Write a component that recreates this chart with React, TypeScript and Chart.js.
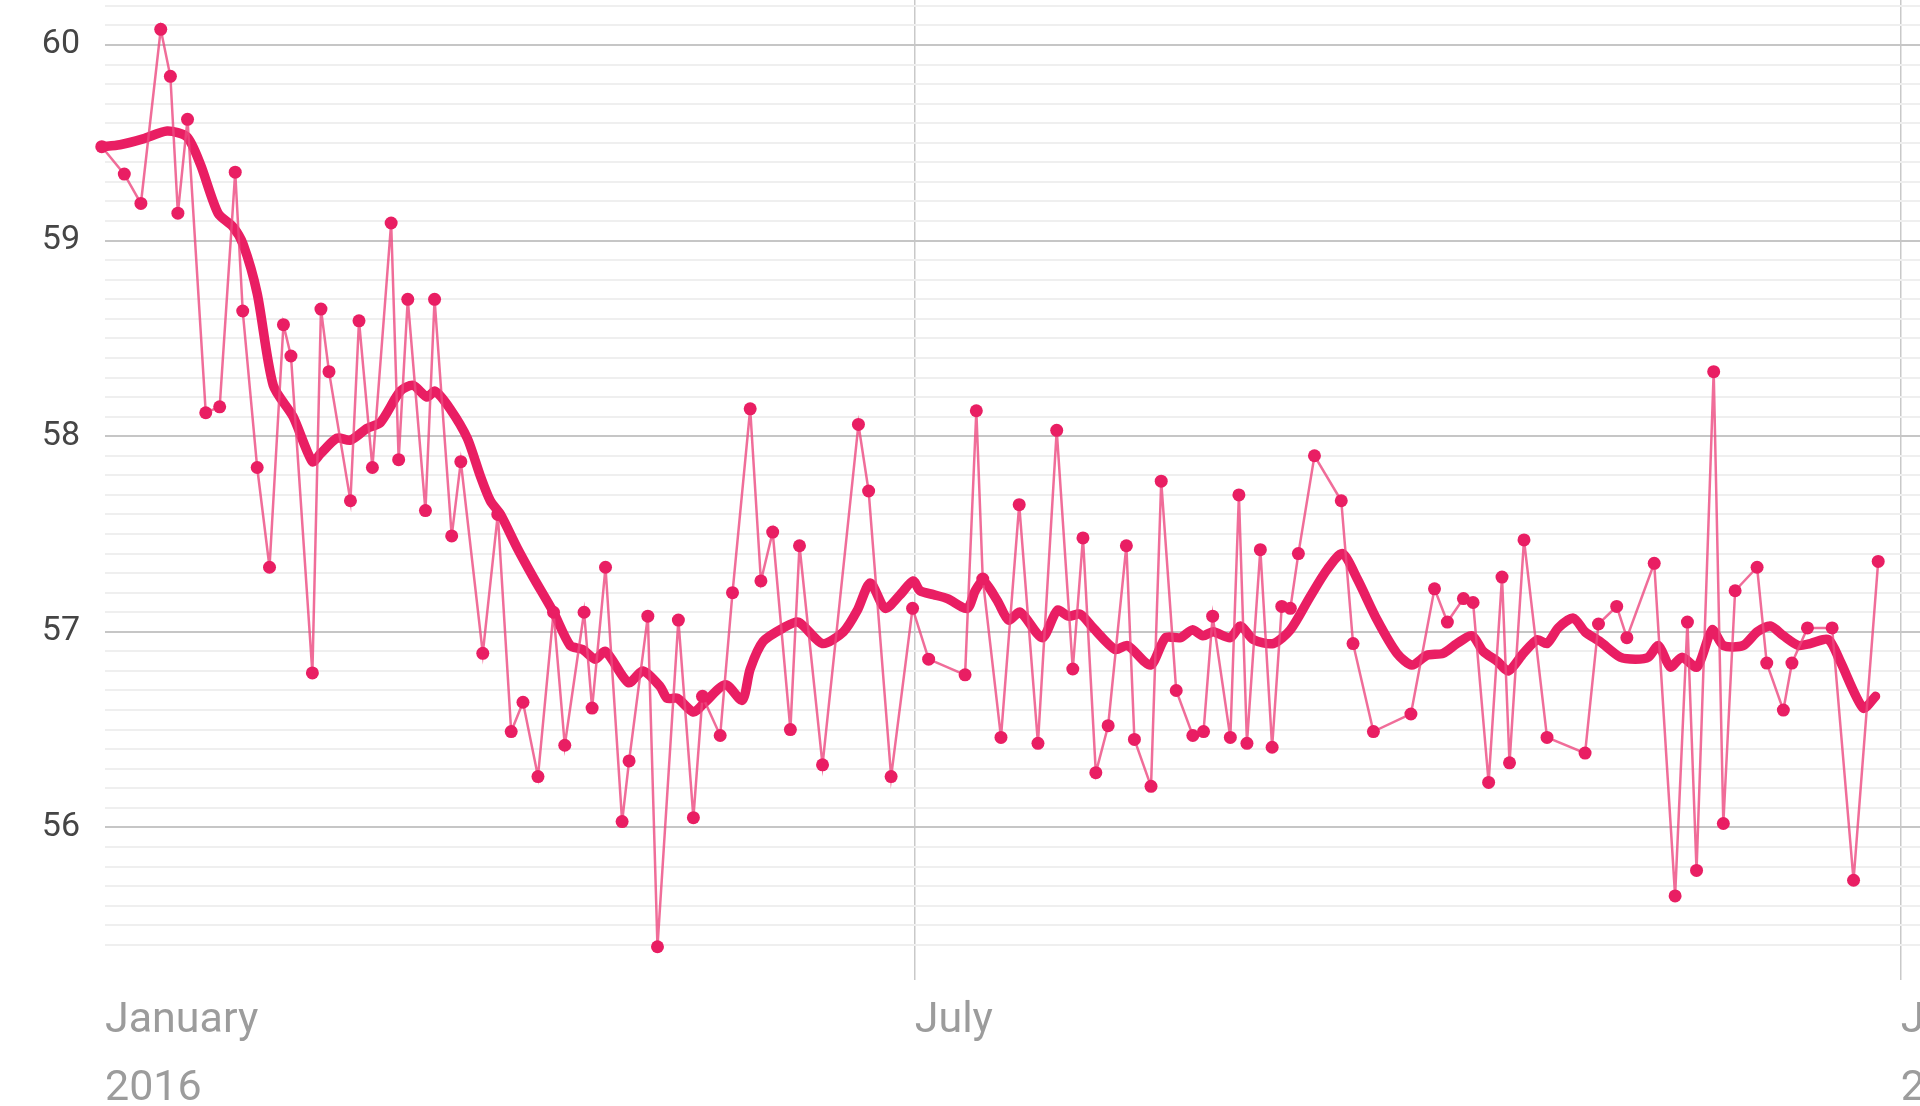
import React, { useEffect, useRef } from "react";
import { Chart, registerables } from "chart.js";

Chart.register(...registerables);

// Day of year 2016 (0 = 1 January 2016)
const thinDays = [
  30.3, 34.5, 37.6, 41.3, 43.1, 44.5, 46.3, 49.7, 52.3, 55.2,
  56.6, 59.3, 61.6, 64.2, 65.6, 69.6, 71.2, 72.7, 76.7, 78.3,
  80.8, 84.3, 85.7, 87.4, 90.7, 92.4, 95.6, 97.3, 101.4, 104.2,
  106.7, 108.9, 111.7, 114.6, 116.7, 120.3, 121.8, 124.3, 127.4, 128.7,
  132.2, 134.0, 137.9, 140.7, 142.4, 145.7, 148.0, 151.3, 153.3, 155.5,
  158.8, 160.5, 164.8, 171.5, 173.4, 177.6, 181.6, 184.6, 191.4, 193.5,
  194.7, 198.1, 201.5, 205.0, 208.5, 211.5, 213.4, 215.8, 218.1, 221.5,
  223.0, 226.1, 228.0, 230.8, 233.9, 235.9, 237.6, 240.9, 242.5, 244.0,
  246.5, 248.7, 250.5, 252.1, 253.6, 256.6, 261.6, 263.8, 267.6, 274.6,
  279.0, 281.4, 284.4, 286.2, 289.1, 291.6, 293.0, 295.7, 300.0, 307.1,
  309.6, 313.0, 314.9, 320.0, 323.9, 326.2, 327.9, 331.1, 332.9, 335.1,
  339.2, 341.0, 344.1, 345.7, 348.6, 353.2, 357.2, 361.8,
];

const thinValues = [
  59.48, 59.34, 59.19, 60.08, 59.84, 59.14, 59.62, 58.12, 58.15, 59.35,
  58.64, 57.84, 57.33, 58.57, 58.41, 56.79, 58.65, 58.33, 57.67, 58.59,
  57.84, 59.09, 57.88, 58.7, 57.62, 58.7, 57.49, 57.87, 56.89, 57.6,
  56.49, 56.64, 56.26, 57.1, 56.42, 57.1, 56.61, 57.33, 56.03, 56.34,
  57.08, 55.39, 57.06, 56.05, 56.67, 56.47, 57.2, 58.14, 57.26, 57.51,
  56.5, 57.44, 56.32, 58.06, 57.72, 56.26, 57.12, 56.86, 56.78, 58.13,
  57.27, 56.46, 57.65, 56.43, 58.03, 56.81, 57.48, 56.28, 56.52, 57.44,
  56.45, 56.21, 57.77, 56.7, 56.47, 56.49, 57.08, 56.46, 57.7, 56.43,
  57.42, 56.41, 57.13, 57.12, 57.4, 57.9, 57.67, 56.94, 56.49, 56.58,
  57.22, 57.05, 57.17, 57.15, 56.23, 57.28, 56.33, 57.47, 56.46, 56.38,
  57.04, 57.13, 56.97, 57.35, 55.65, 57.05, 55.78, 58.33, 56.02, 57.21,
  57.33, 56.84, 56.6, 56.84, 57.02, 57.02, 55.73, 57.36,
];

const avgDays = [
  30.3, 33.7, 38.0, 42.5, 46.2, 48.7, 52.0, 54.8, 56.7, 59.3,
  62.3, 66.0, 69.6, 71.1, 74.2, 76.7, 79.8, 82.3, 86.0, 88.4,
  91.0, 92.5, 95.3, 98.5, 100.9, 102.8, 104.7, 107.8, 110.8, 114.6,
  117.7, 120.0, 122.4, 124.3, 128.6, 131.3, 134.5, 135.8, 137.7, 140.7,
  142.5, 146.7, 149.8, 151.3, 153.7, 157.5, 160.3, 164.8, 168.7, 171.3,
  173.7, 176.5, 179.3, 181.7, 183.0, 185.5, 188.1, 191.8, 193.3, 194.8,
  197.4, 199.5, 201.7, 205.8, 208.6, 210.7, 212.9, 215.3, 219.4, 221.7,
  226.0, 228.8, 231.6, 233.8, 235.8, 237.7, 240.9, 242.8, 245.2, 248.9,
  252.1, 255.8, 259.0, 261.8, 264.6, 268.3, 272.0, 274.8, 277.6, 280.6,
  283.2, 286.0, 288.1, 290.7, 292.8, 295.6, 298.2, 300.0, 302.1, 304.9,
  307.1, 309.9, 313.7, 316.5, 318.9, 320.8, 323.0, 325.2, 328.0, 330.8,
  332.9, 336.6, 339.2, 341.7, 344.1, 346.9, 349.1, 352.5, 354.7, 359.0,
  361.3,
];

const avgValues = [
  59.48, 59.49, 59.52, 59.56, 59.53, 59.39, 59.14, 59.07, 58.98, 58.73,
  58.26, 58.1, 57.87, 57.91, 57.99, 57.98, 58.04, 58.07, 58.23, 58.26,
  58.2, 58.23, 58.14, 57.99, 57.8, 57.67, 57.6, 57.43, 57.28, 57.1,
  56.93, 56.91, 56.86, 56.9, 56.74, 56.8, 56.72, 56.66, 56.66, 56.59,
  56.63, 56.73, 56.65, 56.81, 56.95, 57.02, 57.05, 56.94, 57.0, 57.11,
  57.25, 57.12, 57.19, 57.26, 57.21, 57.19, 57.17, 57.12, 57.21, 57.26,
  57.16, 57.06, 57.1, 56.97, 57.11, 57.08, 57.09, 57.02, 56.91, 56.93,
  56.83, 56.97, 56.97, 57.01, 56.98, 57.0, 56.97, 57.03, 56.96, 56.94,
  57.01, 57.18, 57.32, 57.4, 57.27, 57.06, 56.89, 56.83, 56.88, 56.89,
  56.94, 56.98, 56.9, 56.85, 56.8, 56.89, 56.96, 56.94, 57.02, 57.07,
  57.0, 56.95, 56.87, 56.86, 56.87, 56.93, 56.82, 56.87, 56.82, 57.01,
  56.93, 56.93, 57.0, 57.03, 56.98, 56.93, 56.94, 56.96, 56.85, 56.61,
  56.67,
];

// Visible window (day of year) and axis values
const X_MIN = 30.9;
const X_MAX = 369.6;
const xTickDays = [X_MIN, 182, 366];
const xTickLabels = [["January", "2016"], ["July"], ["January", "2017"]];
const Y_MIN = 55.22;
const Y_MAX = 60.23;
const Y_GRID_FROM = 55.4;
const Y_GRID_TO = 60.2;
const Y_GRID_STEP = 0.1;
const yLabelValues = [56, 57, 58, 59, 60];

const PINK = "#e91e63";

export default function App() {
  const ref = useRef<HTMLCanvasElement>(null);

  useEffect(() => {
    document.body.style.margin = "0";
    const canvas = ref.current;
    if (!canvas) return;

    const thinData = thinDays.map((d, i) => ({ x: d, y: thinValues[i] }));
    const avgData = avgDays.map((d, i) => ({ x: d, y: avgValues[i] }));

    const isLabelled = (v: number) =>
      yLabelValues.some((l) => Math.abs(l - v) < 1e-6);

    const chart = new Chart(canvas, {
      type: "line",
      data: {
        datasets: [
          {
            data: thinData,
            borderColor: "rgba(236,72,128,0.8)",
            borderWidth: 2.5,
            pointRadius: 6.5,
            pointBackgroundColor: PINK,
            pointBorderWidth: 0,
            pointHoverRadius: 6.5,
            tension: 0,
            clip: false as any,
          },
          {
            data: avgData,
            borderColor: PINK,
            borderWidth: 9.5,
            borderCapStyle: "round",
            borderJoinStyle: "round",
            pointRadius: 0,
            tension: 0.25,
            clip: false as any,
          },
        ],
      },
      options: {
        responsive: false,
        animation: false,
        devicePixelRatio: 1,
        layout: { padding: 0, autoPadding: false },
        plugins: {
          legend: { display: false },
          tooltip: { enabled: false },
        },
        scales: {
          x: {
            type: "linear",
            min: X_MIN,
            max: X_MAX,
            border: { display: false },
            afterBuildTicks: (scale: any) => {
              scale.ticks = xTickDays.map((v) => ({ value: v }));
            },
            afterFit: (scale: any) => {
              scale.height = 126;
              scale.paddingLeft = 0;
              scale.paddingRight = 0;
              scale.paddingTop = 0;
              scale.paddingBottom = 0;
            },
            grid: {
              drawTicks: false,
              color: (ctx: any) => (ctx.index === 0 ? "rgba(0,0,0,0)" : "#c9c9c9"),
              lineWidth: 1.5,
            },
            ticks: {
              autoSkip: false,
              maxRotation: 0,
              minRotation: 0,
              align: "start",
              padding: 7,
              color: "#9c9c9c",
              font: { family: "Roboto", size: 43, lineHeight: 1.58 },
              callback: (_v: any, i: number) => xTickLabels[i],
            },
          },
          y: {
            type: "linear",
            min: Y_MIN,
            max: Y_MAX,
            border: { display: false },
            afterBuildTicks: (scale: any) => {
              const ticks: { value: number }[] = [];
              const n = Math.round((Y_GRID_TO - Y_GRID_FROM) / Y_GRID_STEP);
              for (let i = 0; i <= n; i++) {
                ticks.push({ value: Math.round((Y_GRID_FROM + i * Y_GRID_STEP) * 10) / 10 });
              }
              scale.ticks = ticks;
            },
            afterFit: (scale: any) => {
              scale.width = 105;
              scale.paddingLeft = 0;
              scale.paddingRight = 0;
              scale.paddingTop = 0;
              scale.paddingBottom = 0;
            },
            grid: {
              drawTicks: false,
              color: (ctx: any) => (isLabelled(ctx.tick.value) ? "#c6c6c6" : "#efefef"),
              lineWidth: 2,
            },
            ticks: {
              autoSkip: false,
              padding: 25,
              color: "#454545",
              font: { family: "Roboto", size: 34 },
              callback: (v: any) => (isLabelled(Number(v)) ? String(Math.round(Number(v))) : ""),
            },
          },
        },
      },
    } as any);

    return () => chart.destroy();
  }, []);

  return (
    <div style={{ width: 1920, height: 1106, background: "#ffffff", overflow: "hidden" }}>
      <canvas
        ref={ref}
        width={1920}
        height={1106}
        style={{ display: "block", width: 1920, height: 1106 }}
      />
    </div>
  );
}
